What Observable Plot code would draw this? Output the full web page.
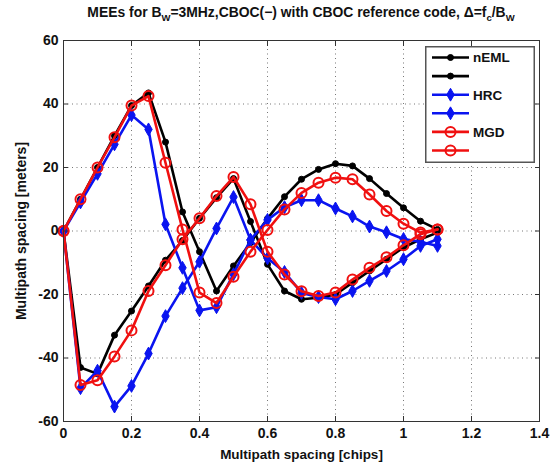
<!DOCTYPE html>
<html><head><meta charset="utf-8">
<script src="https://cdn.jsdelivr.net/npm/d3@7"></script>
<script src="https://cdn.jsdelivr.net/npm/@observablehq/plot@0.6"></script>
<style>
body{margin:0;background:#fff;font-family:"Liberation Sans",Arial,Helvetica,sans-serif;}
#wrap{position:relative;width:550px;height:465px;overflow:hidden;}
#title{position:absolute;left:63px;width:476px;top:4px;text-align:center;font-weight:bold;font-size:13.9px;color:#111;white-space:nowrap;}
#title sub{font-size:9.5px;}
#chart{position:absolute;left:0;top:30px;}
#legend{position:absolute;left:425px;top:46px;}
</style></head><body>
<div id="wrap">
<div id="title">MEEs for B<sub>W</sub>=3MHz,CBOC(−) with CBOC reference code, Δ=f<sub>c</sub>/B<sub>W</sub></div>
<div id="chart"></div>
<div id="legend"></div>
</div>
<script>
// Multipath spacing (chips)
const xs = [0,0.05,0.1,0.15,0.2,0.25,0.3,0.35,0.4,0.45,0.5,0.55,0.6,0.65,0.7,0.75,0.8,0.85,0.9,0.95,1.0,1.05,1.1];
// nEML (two curves)
const nemlA = [0,10,20,30,39.5,43.5,28,6,-6.5,-18.9,-11,-3.7,3.9,10.8,16.3,19.4,21.2,20.5,16.5,11.8,7.3,3.1,0.5];
const nemlB = [0,-43,-45,-32.8,-25.2,-17.3,-9.2,-3,4,10.5,16.5,3,-10.5,-18.9,-21.5,-21,-20,-16.3,-12.6,-8.9,-5.2,-2.6,-0.5];
// HRC (two curves)
const hrcA = [0,9,18,27.3,36.5,32,2.1,-11.6,-25,-24,-13.6,-2.8,3.5,7.5,9.7,9.7,7.1,4.6,1.4,-0.4,-2.5,-3.4,-4.7];
const hrcB = [0,-49.5,-44,-55.3,-48.8,-38.6,-26.8,-18,-9.7,0.8,10.7,-2.8,-8.6,-12.9,-19.5,-20.8,-21.5,-18.9,-15.7,-12.6,-8.9,-4.7,-2.6];
// MGD (two curves)
const mgdA = [0,10,20,29.5,39.5,42.5,21.5,0.5,-19.4,-22.7,-14.4,-6.5,0.3,6.8,12,15.2,16.8,16.3,11.5,6.3,2.3,-0.5,0.5];
const mgdB = [0,-48.5,-47,-39.5,-31.3,-18.9,-10.8,-2.6,4,11,17,8.4,-6.5,-13.7,-19,-20.5,-19.4,-15.3,-11.6,-8.3,-4.5,-1,0.5];

const xTicks = [0,0.2,0.4,0.6,0.8,1,1.2,1.4];
const yTicks = [-60,-40,-20,0,20,40,60];
const legendLabels = ["nEML","","HRC","","MGD",""];

const styles = {
  nEML: {color:"#000000", symbol:"circle", r:3, fill:"#000000", sw:1},
  HRC:  {color:"#0a14f0", symbol:"diamond", r:3.9, fill:"#0a14f0", sw:1},
  MGD:  {color:"#f01010", symbol:"circle", r:5, fill:"none", sw:2}
};
const series = [
  {name:"nEML", values:nemlA},{name:"nEML", values:nemlB},
  {name:"HRC", values:hrcA},{name:"HRC", values:hrcB},
  {name:"MGD", values:mgdA},{name:"MGD", values:mgdB}
];

const font = {fontSize:14, fontWeight:"bold"};
const marks = [
  Plot.gridX(xTicks, {stroke:"#777", strokeOpacity:1, strokeDasharray:"1,3.5"}),
  Plot.gridY(yTicks, {stroke:"#777", strokeOpacity:1, strokeDasharray:"1,3.5"})
];
series.forEach(s => {
  const st = styles[s.name];
  const data = s.values.map((v,i) => ({x: xs[i], y: v}));
  marks.push(Plot.line(data, {x:"x", y:"y", stroke: st.color, strokeWidth: 2.6}));
  marks.push(Plot.dot(data, {x:"x", y:"y", symbol: st.symbol, r: st.r, fill: st.fill, stroke: st.color, strokeWidth: st.sw}));
});
marks.push(
  Plot.frame({stroke:"#333", strokeWidth:1}),
  Plot.axisX(xTicks, {anchor:"bottom", tickSize:-5, text:null, label:null, stroke:"#333"}),
  Plot.axisX(xTicks, {anchor:"top", tickSize:-5, text:null, label:null, stroke:"#333"}),
  Plot.axisY(yTicks, {anchor:"left", tickSize:-5, text:null, label:null, stroke:"#333"}),
  Plot.axisY(yTicks, {anchor:"right", tickSize:-5, text:null, label:null, stroke:"#333"}),
  Plot.axisX(xTicks, {anchor:"bottom", tickSize:0, tickPadding:7, tickFormat: d => String(d), ...font, fill:"#111",
    label:null}),
  Plot.axisX(xTicks, {anchor:"bottom", tickSize:0, text:null, fontSize:13.5, fontWeight:"bold", fill:"#111",
    label:"Multipath spacing [chips]", labelAnchor:"center", labelArrow:"none", labelOffset:37}),
  Plot.axisY(yTicks, {anchor:"left", tickSize:0, tickPadding:5, tickFormat: d => String(d), ...font, fill:"#111",
    label:"Multipath spacing [meters]", labelAnchor:"center", labelArrow:"none", labelOffset:47})
);

const chart = Plot.plot({
  width: 550, height: 435,
  marginLeft: 63, marginRight: 11, marginTop: 10, marginBottom: 44,
  x: {domain:[0,1.4]},
  y: {domain:[-60,60]},
  style: {fontFamily:'"Liberation Sans",Arial,sans-serif', background:"#fff", color:"#111"},
  marks
});
document.getElementById("chart").appendChild(chart);

// Legend (HTML/SVG overlay)
const lw = 110, lh = 117;
const lsvg = d3.create("svg").attr("width", lw).attr("height", lh)
  .style("font-family",'"Liberation Sans",Arial,sans-serif');
lsvg.append("rect").attr("x",0.75).attr("y",0.75).attr("width",lw-1.5).attr("height",lh-1.5)
  .attr("fill","#fff").attr("stroke","#555").attr("stroke-width",1.5);
series.forEach((s,i) => {
  const st = styles[s.name];
  const cy = 11.5 + i*18.6;
  const g = lsvg.append("g");
  g.append("line").attr("x1",7).attr("x2",44).attr("y1",cy).attr("y2",cy).attr("stroke",st.color).attr("stroke-width",2.6);
  const size = Math.PI*st.r*st.r;
  const sym = st.symbol === "diamond" ? d3.symbolDiamond : d3.symbolCircle;
  g.append("path").attr("d", d3.symbol(sym, size)()).attr("transform",`translate(25.5,${cy})`)
    .attr("fill", st.fill).attr("stroke", st.color).attr("stroke-width", st.sw);
  if (legendLabels[i]) g.append("text").attr("x",48).attr("y",cy).attr("dy","0.36em")
    .attr("font-size",13.5).attr("font-weight","bold").attr("fill","#111").text(legendLabels[i]);
});
document.getElementById("legend").appendChild(lsvg.node());
</script>
</body></html>
